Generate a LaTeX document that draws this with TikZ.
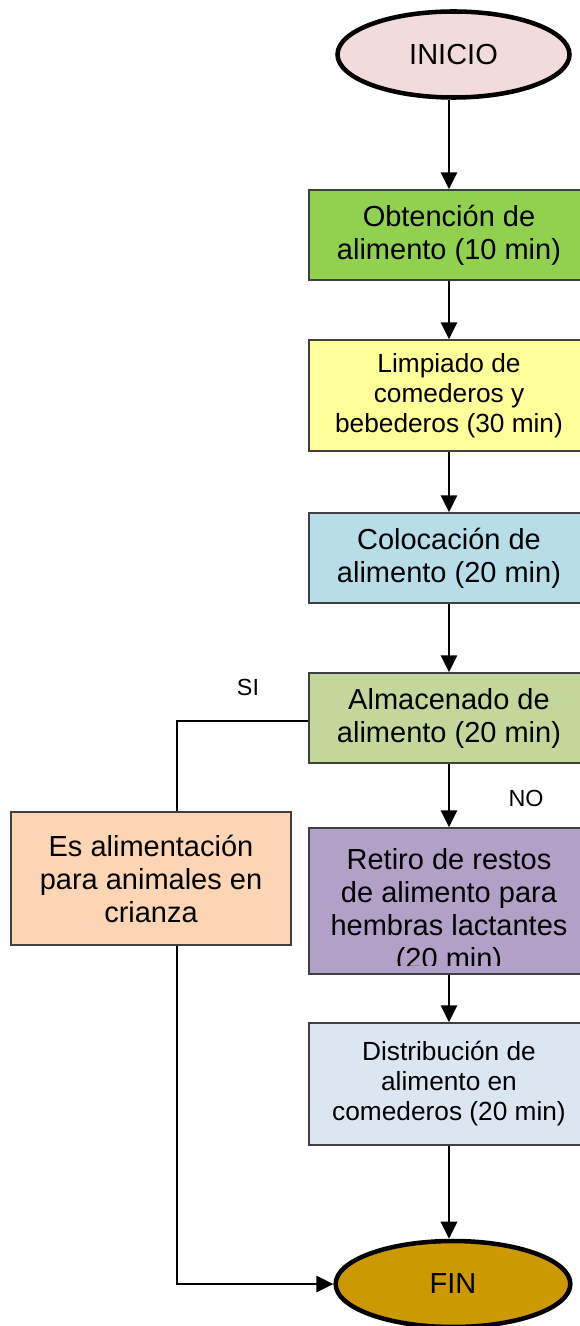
\documentclass[tikz,border=0pt]{standalone}
\usepackage{fontspec}
\setmainfont{Liberation Sans}
\usetikzlibrary{shapes.geometric,arrows.meta}
\definecolor{cIni}{RGB}{242,220,219}
\definecolor{cFin}{RGB}{204,153,0}
\definecolor{cGreen}{RGB}{146,208,80}
\definecolor{cYellow}{RGB}{255,255,153}
\definecolor{cBlue}{RGB}{183,222,232}
\definecolor{cOlive}{RGB}{196,215,155}
\definecolor{cOrange}{RGB}{252,213,180}
\definecolor{cPurple}{RGB}{177,160,199}
\definecolor{cLight}{RGB}{220,230,241}
\definecolor{cBorder}{RGB}{64,64,64}
\tikzset{
  bigfont/.style={font={\fontsize{21.75}{24.75}\selectfont}},
  smallfont/.style={font={\fontsize{19.7}{22.5}\selectfont}},
  labfont/.style={font={\fontsize{17.5}{20}\selectfont}},
  procbox/.style={rectangle, draw=cBorder, line width=1pt, minimum width=210pt, inner sep=0pt, align=center},
  term/.style={ellipse, draw=black, line width=3.4pt, minimum width=174pt, minimum height=64.5pt, inner sep=0pt, bigfont},
  arr/.style={line width=2.2pt, -{Triangle[width=12pt,length=12.75pt]}},
  conn/.style={line width=1.9pt},
}
\begin{document}
\begin{tikzpicture}[x=0.75pt,y=-0.75pt]
\useasboundingbox (0,0) rectangle (580,1326);
% terminals
\node[term, fill=cIni] (ini) at (453.5,54.5) {INICIO};
\node[term, fill=cFin, minimum width=176pt] (fin) at (453,1284) {FIN};
% process boxes
\node[procbox, fill=cGreen, minimum height=67.5pt, bigfont] (b1) at (449,235) {Obtención de\\alimento (10 min)};
\node[procbox, fill=cYellow, minimum height=83.25pt, smallfont] (b2) at (449,395.5) {Limpiado de\\comederos y\\bebederos (30 min)};
\node[procbox, fill=cBlue, minimum height=67.5pt, bigfont] (b3) at (449,558) {Colocación de\\alimento (20 min)};
\node[procbox, fill=cOlive, minimum height=67.5pt, bigfont] (b4) at (449,718) {Almacenado de\\alimento (20 min)};
\node[procbox, fill=cOrange, minimum height=99.75pt, bigfont] (or) at (151,878.5) {Es alimentación\\para animales en\\crianza};
\node[procbox, fill=cPurple, minimum height=109.5pt] (pu) at (449,901) {};
\begin{scope}
  \clip (309,828) rectangle (589,965);
  \node[inner sep=0pt, align=center, bigfont] (putext) at (449,911) {Retiro de restos\\de alimento para\\hembras lactantes\\(20 min)};
\end{scope}
\node[procbox, fill=cLight, minimum height=91.5pt, smallfont] (b6) at (449,1084) {Distribución de\\alimento en\\comederos (20 min)};
% labels
\node[labfont, inner sep=0pt] (si) at (248,687) {SI};
\node[labfont, inner sep=0pt] (no) at (526,798) {NO};
% connectors
\draw[arr] (b1.north |- ini.south) -- (b1.north);
\draw[arr] (b1.south) -- (b2.north);
\draw[arr] (b2.south) -- (b3.north);
\draw[arr] (b3.south) -- (b4.north);
\draw[arr] (b4.south) -- (pu.north);
\draw[arr] (pu.south) -- (b6.north);
\draw[arr] (b6.south) -- (b6.south |- fin.north);
\coordinate (cl) at (177,721);
\draw[conn] (b4.west |- cl) -- (cl) -- (or.north -| cl);
\draw[conn, arr] (or.south -| cl) |- (fin.west);
\end{tikzpicture}
\end{document}
